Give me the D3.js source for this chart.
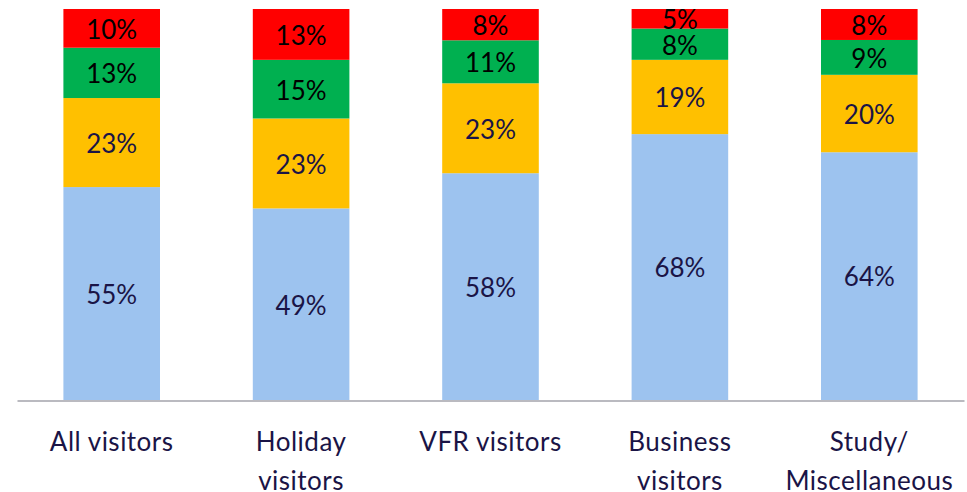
<!DOCTYPE html>
<html><head><meta charset="utf-8">
<script src="https://cdn.jsdelivr.net/npm/d3@7"></script>
<style>html,body{margin:0;padding:0;background:#fff;}svg{display:block;}</style>
</head><body>
<svg id="chart" width="967" height="492"></svg>
<script>
const categories = ["All visitors", "Holiday visitors", "VFR visitors", "Business visitors", "Study/ Miscellaneous"];
const categoryLines = [["All visitors"], ["Holiday", "visitors"], ["VFR visitors"], ["Business", "visitors"], ["Study/", "Miscellaneous"]];
const seriesNames = ["s1", "s2", "s3", "s4"];
const s1 = [55, 49, 58, 68, 64];
const s2 = [23, 23, 23, 19, 20];
const s3 = [13, 15, 11, 8, 9];
const s4 = [10, 13, 8, 5, 8];
const seriesColors = ["#9dc3ef", "#ffc000", "#00b050", "#ff0000"];
const labelColors = ["#1a1446", "#1a1446", "#000000", "#000000"];

const svg = d3.select("#chart");
const rows = categories.map((c, i) => ({cat: c, s1: s1[i], s2: s2[i], s3: s3[i], s4: s4[i]}));
const stack = d3.stack().keys(seriesNames).offset(d3.stackOffsetExpand);
const layers = stack(rows);

const x = d3.scaleBand().domain(categories).range([17, 964]).paddingInner(0.49).paddingOuter(0.245);
const y = d3.scaleLinear().domain([0, 1]).range([400, 9]);
const font = "Lato, 'Open Sans', sans-serif";

const g = svg.append("g");
layers.forEach((layer, li) => {
  g.selectAll(null).data(layer).enter().append("rect")
    .attr("x", d => x(d.data.cat))
    .attr("width", x.bandwidth())
    .attr("y", d => y(d[1]))
    .attr("height", d => y(d[0]) - y(d[1]))
    .attr("fill", seriesColors[li]);
});
layers.forEach((layer, li) => {
  g.selectAll(null).data(layer).enter().append("text")
    .attr("x", d => x(d.data.cat) + x.bandwidth() / 2)
    .attr("y", d => (y(d[0]) + y(d[1])) / 2 + 1)
    .attr("dy", "0.36em")
    .attr("text-anchor", "middle")
    .attr("font-family", font)
    .attr("font-size", 26)
    .attr("fill", labelColors[li])
    .text(d => d.data[seriesNames[li]] + "%");
});

// axis
const axis = d3.axisBottom(x).tickSize(0).tickFormat("");
const ax = svg.append("g").attr("transform", "translate(0,400.5)").call(axis);
ax.select(".domain").attr("stroke", "#a3a3ab").attr("stroke-width", 1.6);

categories.forEach((c, i) => {
  const t = svg.append("text")
    .attr("x", x(c) + x.bandwidth() / 2)
    .attr("text-anchor", "middle")
    .attr("font-family", font)
    .attr("font-size", 26)
    .attr("letter-spacing", "0.5px")
    .attr("fill", "#1a1446");
  categoryLines[i].forEach((line, j) => {
    t.append("tspan").attr("x", x(c) + x.bandwidth() / 2).attr("y", 451 + j * 39).text(line);
  });
});
</script>
</body></html>
